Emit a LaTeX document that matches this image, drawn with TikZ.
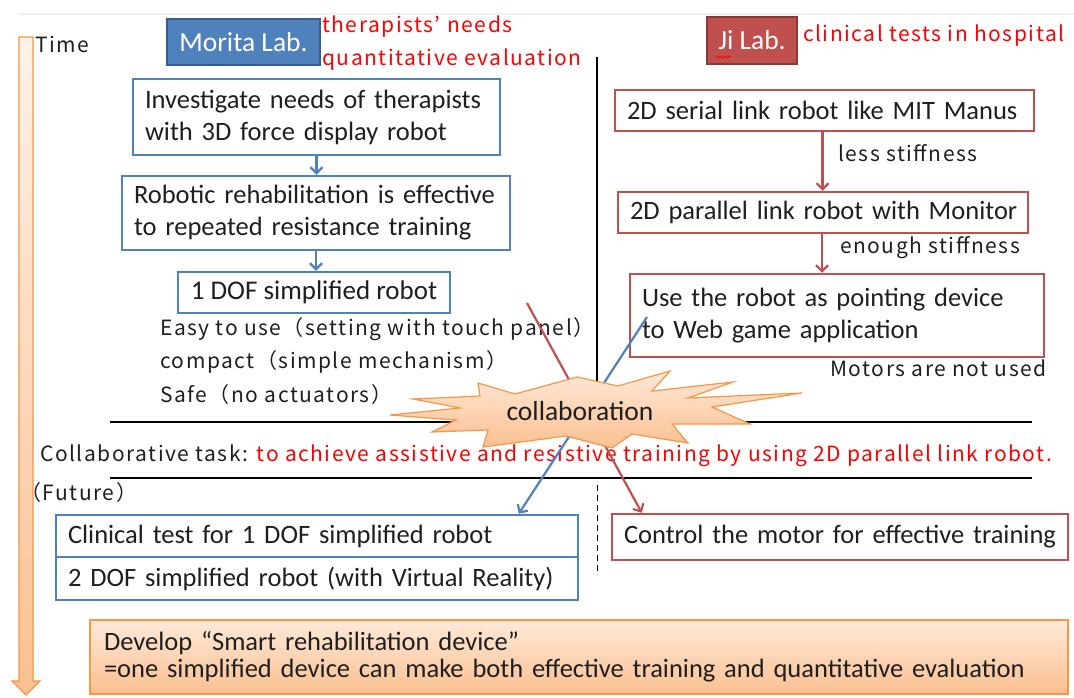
\documentclass[tikz,border=0pt]{standalone}
\usepackage{fontspec}
\setmainfont{Carlito}
\newfontfamily\jp[LetterSpace=7.3]{Noto Sans CJK JP}
\usetikzlibrary{arrows.meta,decorations.pathmorphing,calc}

\definecolor{mblue}{HTML}{4F81BD}
\definecolor{mbluedk}{HTML}{385D8A}
\definecolor{mred}{HTML}{C0504D}
\definecolor{mreddk}{HTML}{8C3836}
\definecolor{morange}{HTML}{F79646}
\definecolor{peach}{HTML}{FDE9D9}
\definecolor{peachdk}{HTML}{FAC090}
\definecolor{txt}{HTML}{1F1F1F}

\tikzset{
  box/.style={draw, line width=2.5pt, fill=white, inner xsep=12pt, inner ysep=0pt,
    font=\fontsize{26.5}{32}\selectfont, text=txt},
  bluebox/.style={box, draw=mblue},
  redbox/.style={box, draw=mred},
  labbox/.style={draw, line width=2.5pt, inner sep=0pt, text=white,
    font=\fontsize{27.5}{30}\selectfont},
  jptext/.style={font=\jp\fontsize{21}{33}\selectfont, text=txt, inner sep=0pt, anchor=west},
  redtext/.style={jptext, text=red},
  barrow/.style={draw=mblue, line width=2.2pt, -{Straight Barb[length=6pt,width=12pt]}},
  rarrow/.style={draw=mred, line width=2.2pt, -{Straight Barb[length=6pt,width=12pt]}},
  rule/.style={line width=1.3pt, black},
}

\begin{document}
\begin{tikzpicture}[x=1pt,y=-1pt]
\useasboundingbox[fill=white] (0,0) rectangle (1074,697);
\draw[gray!12, line width=1.5pt] (18,14) -- (1074,14);

% time axis
\draw[morange, line width=1.2pt, top color=peach!60, bottom color=peachdk]
  (19,37) -- (33,37) -- (33,681) -- (40,681) -- (26,695) -- (12,681) -- (19,681) -- cycle;
\node[jptext] (time) at (35,44) {Time};

% lab headers
\node[labbox, fill=mblue, draw=mbluedk, minimum width=153pt, minimum height=46pt] (morita) at (243.5,42) {Morita Lab.};
\node[redtext] (needs) at (322,27) {therapists’\,\,needs};
\node[redtext] (quant) at (322,60) {quantitative evaluation};
\node[labbox, fill=mred, draw=mreddk, minimum width=90pt, minimum height=47pt] (ji) at (752,40.5) {Ji Lab.};
\draw[red, line width=0.8pt, decorate, decoration={snake, amplitude=1pt, segment length=4pt}] (716,57) -- (731,57);
\node[redtext] (clin) at (803,36) {clinical tests in hospital};

% separators
\draw[rule] (597,57) -- (597,385);
\draw[line width=1pt, dash pattern=on 6pt off 4pt] (597,485) -- (597,575);
\draw[rule] (110,422) -- (1032,422);
\draw[rule] (110,478) -- (1032,478);

% Morita lab flow
\node[bluebox, minimum width=367pt, minimum height=76pt, text width=343pt, align=left] (b1) at (316.5,117)
  {Investigate needs of therapists\\with 3D force display robot};
\node[bluebox, minimum width=388pt, minimum height=74pt, text width=364pt, align=left] (b2) at (316,213)
  {\mbox{Robotic rehabilitation is effective}\\to repeated resistance training};
\node[bluebox, minimum width=272pt, minimum height=41pt, font=\fontsize{27}{32}\selectfont] (b3) at (314,292.5) {1 DOF simplified robot};
\draw[barrow] (b1.south) -- (b1.south |- b2.north);
\draw[barrow] (b2.south) -- (b2.south |- b3.north);
\node[jptext] (f1) at (160,329) {Easy to use（setting with touch panel）};
\node[jptext] (f2) at (160,362) {compact（simple mechanism）};
\node[jptext] (f3) at (160,395) {Safe（no actuators）};

% Ji lab flow
\node[redbox, minimum width=419pt, minimum height=41pt, text width=395pt, align=left] (r1) at (824.5,110.5)
  {\mbox{2D serial link robot like MIT Manus}};
\node[redbox, minimum width=410pt, minimum height=41pt, text width=386pt, align=left] (r2) at (823,212.5)
  {\mbox{2D parallel link robot with Monitor}};
\node[redbox, minimum width=414pt, minimum height=83pt, text width=390pt, align=left] (r3) at (837,315.5)
  {Use the robot as pointing device\\to Web game application};
\draw[rarrow] ([xshift=-2pt]r1.south) -- ([xshift=-2pt]r1.south |- r2.north);
\draw[rarrow] ([xshift=-1pt]r2.south) -- ([xshift=-1pt]r2.south |- r3.north);
\node[jptext] (less) at (838,153) {less stiffness};
\node[jptext] (enough) at (840,248) {enough stiffness};
\node[jptext] (motors) at (830,368) {Motors are not used};

% collaborative task
\node[jptext] (task) at (40,456) {Collaborative task: \textcolor{red}{to achieve assistive and resistive training by using 2D parallel link robot.}};
\node[jptext] (future) at (20,493) {（Future）};

% future work
\node[bluebox, minimum width=522pt, minimum height=42pt, text width=498pt, align=left] (c1) at (317,536)
  {\mbox{Clinical test for 1 DOF simplified robot}};
\node[bluebox, minimum width=522pt, minimum height=43pt, text width=498pt, align=left] (c2) at (317,578.5)
  {\mbox{2 DOF simplified robot (with Virtual Reality)}};
\node[redbox, minimum width=456pt, minimum height=46pt, text width=432pt, align=left] (c3) at (840,537)
  {\mbox{Control the motor for effective training}};

% crossing links
\coordinate (rs) at (527,303);
\coordinate (bs) at (647,317);
\draw[rarrow] (rs) -- ([xshift=31pt]c3.north west);
\draw[barrow] (bs) -- ([xshift=464pt]c1.north west);

% collaboration burst
\draw[morange, line width=1.2pt, top color=peach, bottom color=peachdk]
  (478,383) -- (515,394) -- (577,377) -- (618,386) -- (670,371) -- (652,391)
  -- (733,382) -- (688,398) -- (802,393) -- (712,407) -- (750,424) -- (672,424)
  -- (688,443) -- (632,434) -- (612,448) -- (566,436) -- (483,447) -- (488,430)
  -- (432,432) -- (456,420) -- (390,415) -- (460,408) -- (413,399) -- (480,396)
  -- cycle;
\node[font=\fontsize{27.5}{30}\selectfont, text=txt] (collab) at (580,411) {collaboration};

% goal
\node[draw=morange, line width=1.5pt, top color=peach, bottom color=peachdk, inner xsep=14pt, inner ysep=0pt,
  minimum width=978pt, minimum height=74pt, text width=950pt, align=left,
  font=\fontsize{26.5}{27}\selectfont, text=txt] (goal) at (579,657)
  {Develop “Smart rehabilitation device”\\=one simplified device can make both effective training and quantitative evaluation};
\end{tikzpicture}
\end{document}
